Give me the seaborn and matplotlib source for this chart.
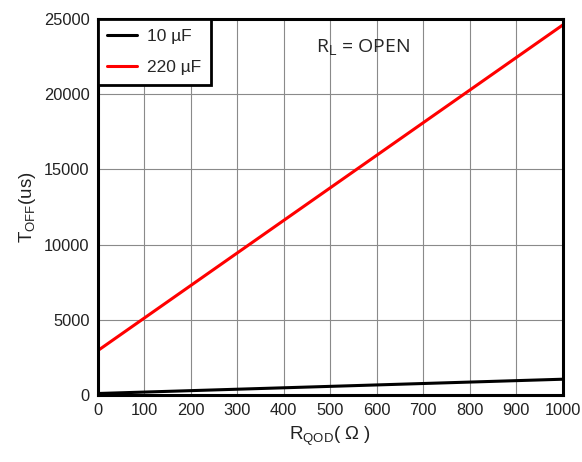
import numpy as np
import pandas as pd
import seaborn as sns
import matplotlib.pyplot as plt

# values
r_qod = [0, 1000]
toff_10uF = [100, 1050]
toff_220uF = [2950, 24600]
series_names = ['10 µF', '220 µF']
x_ticks = [0, 100, 200, 300, 400, 500, 600, 700, 800, 900, 1000]
y_ticks = [0, 5000, 10000, 15000, 20000, 25000]

df = pd.DataFrame({
    'R': r_qod * 2,
    'T': toff_10uF + toff_220uF,
    'C': [series_names[0]] * 2 + [series_names[1]] * 2,
})

sns.set_style('white')
plt.rcParams['font.family'] = ['Liberation Sans', 'DejaVu Sans']
plt.rcParams['mathtext.fontset'] = 'custom'
plt.rcParams['mathtext.rm'] = 'Liberation Sans'
plt.rcParams['mathtext.it'] = 'Liberation Sans'

fig = plt.figure(figsize=(5.82, 4.62), dpi=100)
ax = fig.add_axes([0.168, 0.145, 0.799, 0.814])

sns.lineplot(data=df, x='R', y='T', hue='C', palette=['black', '#ff0000'],
             linewidth=2.2, ax=ax)

ax.set_xlim(0, 1000)
ax.set_ylim(0, 25000)
ax.set_xticks(x_ticks)
ax.set_yticks(y_ticks)
ax.grid(True, color='#8a8a8a', linewidth=0.8)
ax.tick_params(labelsize=11.8, length=0, pad=6, colors='#222222')
for s in ax.spines.values():
    s.set_color('black')
    s.set_linewidth(2.2)

ax.set_xlabel(r'R$_{\mathrm{QOD}}$( Ω )', fontsize=13.5, color='#222222', labelpad=5)
ax.set_ylabel(r'T$_{\mathrm{OFF}}$(us)', fontsize=13.5, color='#222222', labelpad=4)

ax.text(0.47, 0.925, r'R$_{\mathrm{L}}$ = OPEN', transform=ax.transAxes,
        fontsize=14, family='Open Sans', ha='left', va='center')

leg = ax.legend(loc='upper left', borderaxespad=0, fontsize=12.5, fancybox=False,
                handlelength=1.7, handletextpad=0.6, borderpad=0.55, labelspacing=0.95,
                frameon=True)
leg.get_frame().set_edgecolor('black')
leg.get_frame().set_linewidth(2)
leg.get_frame().set_alpha(1)
leg.set_title(None)

fig.savefig('out.png', dpi=100)
